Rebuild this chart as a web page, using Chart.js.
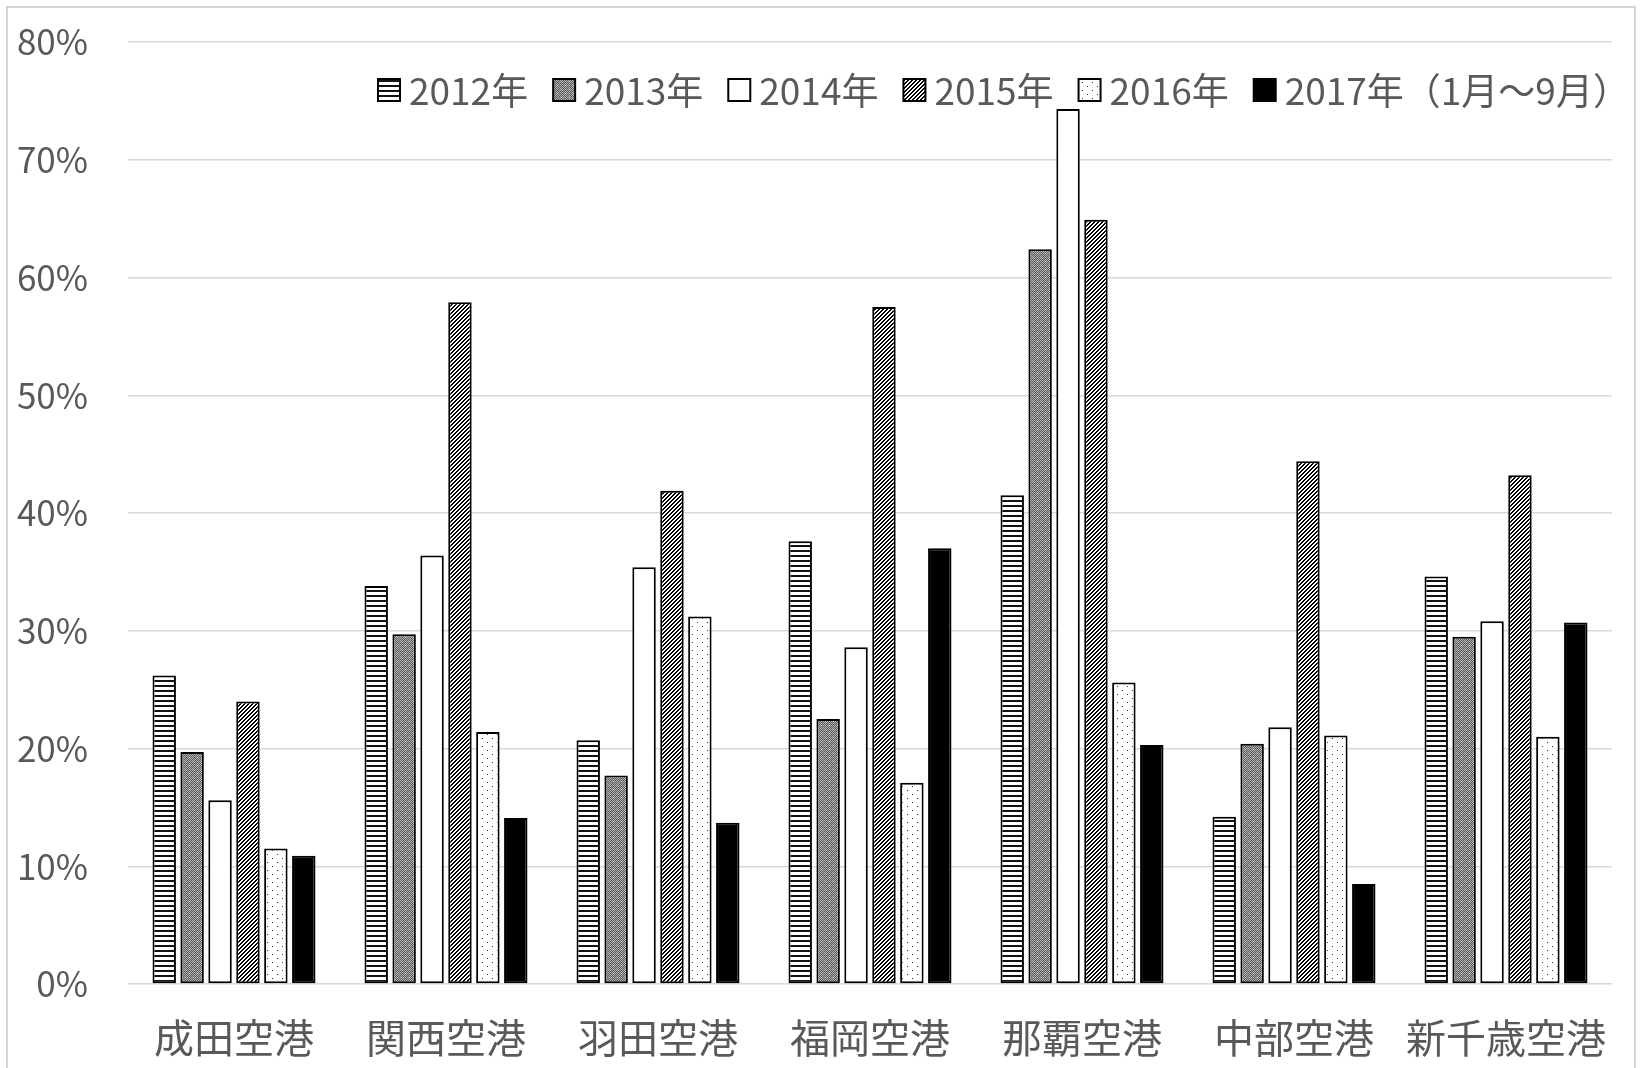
<!DOCTYPE html>
<html lang="ja">
<head>
<meta charset="UTF-8">
<title>空港別の割合</title>
<script src="https://cdn.jsdelivr.net/npm/chart.js"></script>
<style>
  body { margin: 0; background: #fff; }
  canvas { display: block; }
</style>
</head>
<body>
<canvas id="chart" width="1640" height="1068"></canvas>
<script>
// 空港
const airports = ['成田空港', '関西空港', '羽田空港', '福岡空港', '那覇空港', '中部空港', '新千歳空港'];
// 年（凡例）
const years = ['2012年', '2013年', '2014年', '2015年', '2016年', '2017年（1月～9月）'];
// 値（%）
const v2012 = [26.2, 33.8, 20.7, 37.6, 41.5, 14.2, 34.6];
const v2013 = [19.7, 29.7, 17.7, 22.5, 62.4, 20.4, 29.5];
const v2014 = [15.6, 36.4, 35.4, 28.6, 74.3, 21.8, 30.8];
const v2015 = [24.0, 57.9, 41.9, 57.5, 64.9, 44.4, 43.2];
const v2016 = [11.5, 21.4, 31.2, 17.1, 25.6, 21.1, 21.0];
const v2017 = [10.9, 14.1, 13.7, 37.0, 20.3, 8.5, 30.7];
// 縦軸
const yTicks = [0, 10, 20, 30, 40, 50, 60, 70, 80];

const FONT = '"Noto Sans CJK JP", "Noto Sans", sans-serif';
const GRAY = '#595959';

function tile(w, h, draw) {
  const c = document.createElement('canvas');
  c.width = w; c.height = h;
  const g = c.getContext('2d');
  draw(g);
  return g.createPattern(c, 'repeat');
}

// 横線
const pHoriz = tile(1, 5, g => {
  g.fillStyle = '#fff'; g.fillRect(0, 0, 1, 5);
  g.fillStyle = '#111'; g.fillRect(0, 0, 1, 2);
});
// 網点（濃）
const pDense = tile(8, 8, g => {
  g.fillStyle = '#5a5a5a'; g.fillRect(0, 0, 8, 8);
  g.fillStyle = '#b0b0b0';
  for (let y = 0; y < 8; y++) for (let x = 0; x < 8; x++) if ((x + y) % 2 === 0) g.fillRect(x, y, 1, 1);
  g.fillStyle = '#fff';
  g.fillRect(1, 1, 1, 1); g.fillRect(5, 5, 1, 1);
});
// 斜線
const pDiag = tile(4, 4, g => {
  g.fillStyle = '#fff'; g.fillRect(0, 0, 4, 4);
  g.fillStyle = '#000';
  for (let i = 0; i < 4; i++) { g.fillRect(i, 3 - i, 1, 1); g.fillRect((i + 1) % 4, 3 - i, 1, 1); }
});
// 点
const pDots = tile(10, 8, g => {
  g.fillStyle = '#fff'; g.fillRect(0, 0, 10, 8);
  g.fillStyle = '#333';
  g.fillRect(2, 2, 1, 1); g.fillRect(7, 6, 1, 1);
});

const fills = [pHoriz, pDense, '#fff', pDiag, pDots, '#000'];
const series = [v2012, v2013, v2014, v2015, v2016, v2017];

const background = {
  id: 'background',
  beforeDraw(chart) {
    const ctx = chart.ctx;
    ctx.save();
    ctx.fillStyle = '#fff';
    ctx.fillRect(0, 0, chart.width, chart.height);
    ctx.restore();
  },
  afterDraw(chart) {
    const ctx = chart.ctx;
    ctx.save();
    ctx.strokeStyle = '#d4d4d4';
    ctx.lineWidth = 2;
    ctx.strokeRect(7, 7, 1628, 1080);
    ctx.restore();
  }
};

// 凡例（プロット内）
const insideLegend = {
  id: 'insideLegend',
  afterDatasetsDraw(chart) {
    const ctx = chart.ctx;
    ctx.save();
    ctx.font = '37px ' + FONT;
    ctx.textBaseline = 'middle';
    let x = 378;
    const y = 90, box = 22;
    chart.data.datasets.forEach(ds => {
      ctx.fillStyle = ds.backgroundColor;
      ctx.fillRect(x, y - box / 2, box, box);
      ctx.strokeStyle = '#000';
      ctx.lineWidth = 2;
      ctx.strokeRect(x, y - box / 2, box, box);
      ctx.fillStyle = GRAY;
      ctx.fillText(ds.label, x + 31, y + 1);
      x += 31 + ctx.measureText(ds.label).width + 25;
    });
    ctx.restore();
  }
};

new Chart(document.getElementById('chart'), {
  type: 'bar',
  data: {
    labels: airports,
    datasets: years.map((label, i) => ({
      label: label,
      data: series[i],
      backgroundColor: fills[i],
      borderColor: '#000',
      borderWidth: 2,
      borderSkipped: false,
      categoryPercentage: 0.79,
      barPercentage: 0.84
    }))
  },
  options: {
    responsive: false,
    animation: false,
    devicePixelRatio: 1,
    layout: { padding: { top: 42, right: 28, left: 0, bottom: 0 } },
    plugins: {
      legend: { display: false },
      tooltip: { enabled: false }
    },
    scales: {
      x: {
        grid: { display: false },
        border: { display: false },
        ticks: { color: GRAY, font: { family: FONT, size: 40 }, padding: 22, maxRotation: 0 },
        afterFit(scale) { scale.height = 84; }
      },
      y: {
        min: 0,
        max: 80,
        afterBuildTicks(scale) { scale.ticks = yTicks.map(v => ({ value: v })); },
        grid: { color: '#d9d9d9', lineWidth: 1.5, drawTicks: false },
        border: { display: false },
        ticks: {
          color: GRAY,
          font: { family: FONT, size: 35 },
          padding: 40,
          callback: v => v + '%'
        },
        afterFit(scale) {
          scale.width = 128;
          scale.paddingTop = 0;
          scale.paddingBottom = 0;
        }
      }
    }
  },
  plugins: [background, insideLegend]
});
</script>
</body>
</html>
